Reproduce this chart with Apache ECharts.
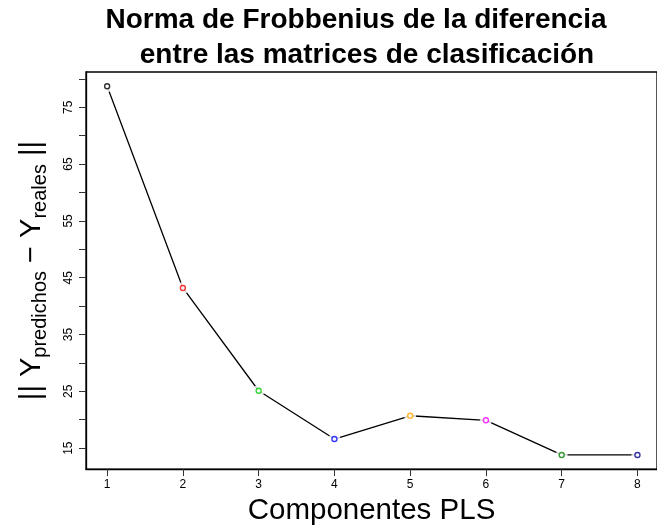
<!DOCTYPE html>
<html>
<head>
<meta charset="utf-8">
<script src="https://cdn.jsdelivr.net/npm/echarts@6/dist/echarts.min.js"></script>
<style>
html,body{margin:0;padding:0;background:#fff;}
#chart{width:657px;height:531px;}
</style>
</head>
<body>
<div id="chart"></div>
<script>
const components = [1, 2, 3, 4, 5, 6, 7, 8];
const normValues = [78.7, 43.2, 25.1, 16.6, 20.7, 19.9, 13.8, 13.8];
const pointColors = ['#000000', '#FF0000', '#00CD00', '#0000FF', '#FFA500', '#FF00FF', '#008000', '#00008B'];
const yTickValues = [15, 20, 25, 30, 35, 40, 45, 50, 55, 60, 65, 70, 75, 80];
const yLabelValues = [15, 25, 35, 45, 55, 65, 75];
const xTickValues = [1, 2, 3, 4, 5, 6, 7, 8];
const titleLines = ['Norma de Frobbenius de la diferencia', 'entre las matrices de clasificación'];

const FONT = '"Liberation Sans", Arial, Helvetica, sans-serif';
const chart = echarts.init(document.getElementById('chart'), null, {renderer: 'canvas'});

const pairs = components.map((c, i) => [c, normValues[i]]);
const titleStyle = {fontFamily: FONT, fontWeight: 'bold', fontSize: 28, lineHeight: 28, color: '#000'};

chart.setOption({
  animation: false,
  backgroundColor: '#ffffff',
  title: [
    {text: titleLines[0], left: 356, top: 6, textAlign: 'center', padding: 0, textStyle: titleStyle},
    {text: titleLines[1], left: 367, top: 41, textAlign: 'center', padding: 0, textStyle: titleStyle}
  ],
  grid: {
    left: 86, top: 72, right: -5, bottom: 56,
    show: true, borderColor: '#000', borderWidth: 1.3, backgroundColor: 'transparent'
  },
  xAxis: {
    type: 'value',
    min: 0.721, max: 8.258,
    name: 'Componentes PLS',
    nameLocation: 'middle',
    nameGap: 13,
    nameTextStyle: {fontFamily: FONT, fontSize: 29.5, color: '#000'},
    splitLine: {show: false},
    axisLine: {show: true, onZero: false, lineStyle: {color: '#000', width: 1.3}},
    axisTick: {show: true, length: 7, customValues: xTickValues, lineStyle: {color: '#333', width: 1}},
    axisLabel: {show: true, margin: 10, fontFamily: FONT, fontSize: 12, color: '#000', customValues: xTickValues,
      formatter: v => String(v)}
  },
  yAxis: {
    type: 'value',
    min: 11.31, max: 81.21,
    name: '{a|||\u00a0Y}{b|predichos}{a|\u00a0−\u00a0Y}{b|reales}{a|\u00a0||}',
    nameLocation: 'middle',
    nameRotate: 90,
    nameGap: 36,
    nameTextStyle: {
      fontFamily: FONT, color: '#000',
      rich: {
        a: {fontFamily: FONT, fontSize: 29, lineHeight: 36, color: '#000'},
        b: {fontFamily: FONT, fontSize: 20, lineHeight: 22, padding: [16, 0, 0, 0], color: '#000'}
      }
    },
    splitLine: {show: false},
    axisLine: {show: true, onZero: false, lineStyle: {color: '#000', width: 1.3}},
    axisTick: {show: true, length: 7, customValues: yTickValues, lineStyle: {color: '#333', width: 1}},
    axisLabel: {show: true, margin: 11, rotate: 90, fontFamily: FONT, fontSize: 12, color: '#000',
      customValues: yLabelValues, formatter: v => String(v)}
  },
  series: [
    {
      type: 'line',
      data: pairs,
      showSymbol: false,
      symbol: 'none',
      lineStyle: {color: '#000', width: 1.3},
      z: 2,
      silent: true
    },
    {
      type: 'scatter',
      data: pairs,
      symbol: 'circle',
      symbolSize: 12,
      itemStyle: {color: '#fff', borderWidth: 0},
      z: 3,
      silent: true
    },
    {
      type: 'scatter',
      data: pairs.map((p, i) => ({value: p, itemStyle: {borderColor: pointColors[i]}})),
      symbol: 'circle',
      symbolSize: 5,
      itemStyle: {color: '#fff', borderWidth: 1.4},
      z: 4,
      silent: true
    }
  ]
});
</script>
</body>
</html>
